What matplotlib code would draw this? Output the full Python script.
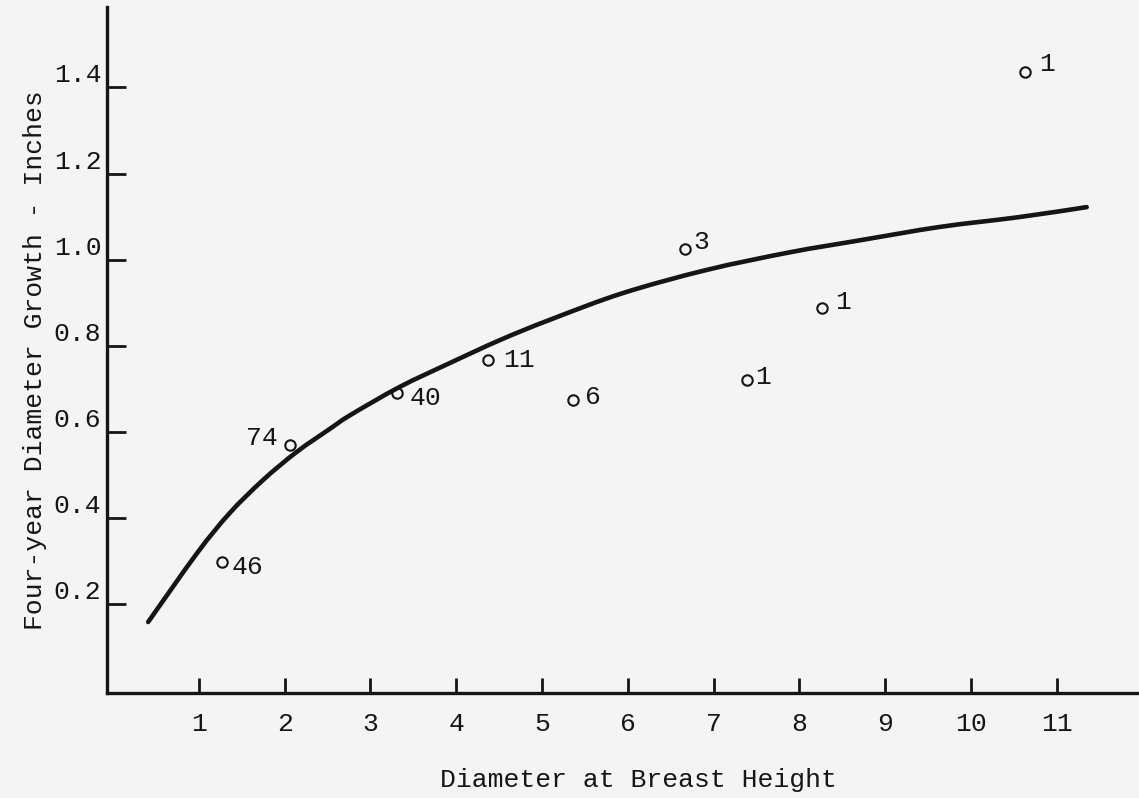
import matplotlib
matplotlib.use("Agg")
import matplotlib.pyplot as plt
from matplotlib.path import Path
from matplotlib.patches import PathPatch

# observed averages: diameter (in.) vs four-year growth (in.), with tree counts
dbh = [1.27, 2.06, 3.31, 4.37, 5.36, 6.67, 7.39, 8.26, 10.63]
growth = [0.297, 0.569, 0.690, 0.767, 0.674, 1.024, 0.720, 0.887, 1.435]
counts = ["46", "74", "40", "11", "6", "3", "1", "1", "1"]

# freehand curve
curve_x = [0.41, 0.98, 1.36, 1.75, 2.14, 2.53, 2.76, 3.34, 3.93, 4.51,
           5.09, 5.94, 6.92, 7.89, 8.71, 9.64, 10.57, 11.35]
curve_y = [0.158, 0.318, 0.411, 0.488, 0.553, 0.607, 0.638, 0.704, 0.760, 0.813,
           0.860, 0.922, 0.976, 1.017, 1.045, 1.076, 1.099, 1.122]

x_ticks = list(range(1, 12))
y_ticks = [0.2, 0.4, 0.6, 0.8, 1.0, 1.2, 1.4]
y_tick_labels = ["0.2", "0.4", "0.6", "0.8", "1.0", "1.2", "1.4"]

# label offsets in pixels (dx, dy) and alignment for each count
label_offsets = [(10, -5), (-12, 7), (13, -5), (15, 0), (12, 3),
                 (8, 7), (8, 3), (14, 6), (14, 8)]
label_ha = ["left", "right", "left", "left", "left", "left", "left", "left", "left"]

plt.rcParams['font.family'] = ['Liberation Mono', 'DejaVu Sans Mono']
fs = 19
ink = '#151515'
bg = '#f4f4f4'

W, H = 1139, 798
fig = plt.figure(figsize=(W / 100, H / 100), dpi=100, facecolor=bg)
ax = fig.add_axes([107 / W, (H - 693) / H, (W - 107) / W, (693 - 7) / H])
ax.set_facecolor(bg)


def smooth_path(xs, ys):
    # Catmull-Rom through the read points, drawn as cubic Bezier segments
    pts = list(zip(xs, ys))
    verts = [pts[0]]
    codes = [Path.MOVETO]
    n = len(pts)
    for i in range(n - 1):
        p0 = pts[max(i - 1, 0)]
        p1 = pts[i]
        p2 = pts[i + 1]
        p3 = pts[min(i + 2, n - 1)]
        c1 = (p1[0] + (p2[0] - p0[0]) / 6, p1[1] + (p2[1] - p0[1]) / 6)
        c2 = (p2[0] - (p3[0] - p1[0]) / 6, p2[1] - (p3[1] - p1[1]) / 6)
        verts += [c1, c2, p2]
        codes += [Path.CURVE4] * 3
    return Path(verts, codes)


ax.add_patch(PathPatch(smooth_path(curve_x, curve_y), facecolor='none',
                       edgecolor=ink, lw=3.3, capstyle='round'))
ax.plot(dbh, growth, 'o', ms=7.5, mfc='none', mec=ink, mew=1.5)

for xi, yi, lab, off, ha in zip(dbh, growth, counts, label_offsets, label_ha):
    ax.annotate(lab, (xi, yi), xytext=off, textcoords='offset pixels',
                ha=ha, va='center', fontsize=fs, color=ink)

ax.set_xlim(-0.07, 11.96)
ax.set_ylim(-0.007, 1.587)

for side in ['top', 'right']:
    ax.spines[side].set_visible(False)
for side in ['left', 'bottom']:
    ax.spines[side].set_linewidth(2.4)
    ax.spines[side].set_color(ink)

ax.set_xticks(x_ticks)
ax.set_xticklabels([str(t) for t in x_ticks])
ax.set_yticks(y_ticks)
ax.set_yticklabels(y_tick_labels)
ax.tick_params(axis='x', direction='in', length=11, width=2, color=ink,
               labelsize=fs, labelcolor=ink, pad=14)
ax.tick_params(axis='y', direction='in', length=14, width=2, color=ink,
               labelsize=fs, labelcolor=ink, pad=4)
for lab in ax.get_yticklabels():
    lab.set_va('bottom')

fig.text(638 / W, 1 - 780 / H, "Diameter at Breast Height", ha='center', va='center',
         fontsize=fs, color=ink)
fig.text(35 / W, 1 - 360 / H, "Four-year Diameter Growth - Inches", ha='center',
         va='center', rotation=90, fontsize=fs, color=ink)

fig.savefig("out.png", dpi=100, facecolor=bg)
